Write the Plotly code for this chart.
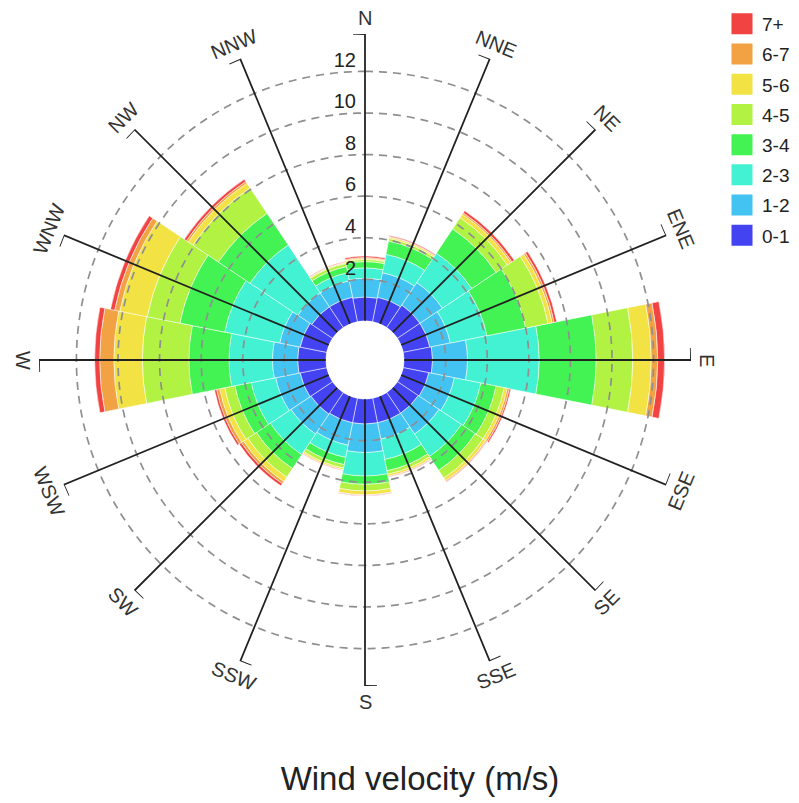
import math
import plotly.graph_objects as go

# ---------------- data ----------------
directions = ["N", "NNE", "NE", "ENE", "E", "ESE", "SE", "SSE",
              "S", "SSW", "SW", "WSW", "W", "WNW", "NW", "NNW"]
speed_bins = ["0-1", "1-2", "2-3", "3-4", "4-5", "5-6", "6-7", "7+"]
bin_colors = ["#4343f2", "#43c3f2", "#43f2d2", "#43f253",
              "#b2f243", "#f2e243", "#f2a243", "#f24343"]

# frequency (stacked) per speed bin, one value per direction (N ... NNW)
v_0_1 = [1.15, 1.20, 1.30, 1.30, 1.37, 1.25, 1.20, 1.20, 1.20, 1.20, 1.25, 1.30, 1.36, 1.30, 1.20, 1.20]
v_1_2 = [0.90, 1.20, 1.30, 1.00, 1.68, 1.25, 1.20, 0.80, 1.37, 1.10, 1.15, 1.20, 1.21, 1.00, 0.80, 0.80]
v_2_3 = [0.50, 0.90, 1.70, 1.80, 3.45, 1.30, 1.30, 1.00, 1.13, 0.60, 1.20, 1.20, 2.09, 2.70, 2.77, 0.40]
v_3_4 = [0.30, 0.65, 1.40, 1.90, 2.74, 0.75, 0.80, 0.55, 0.40, 0.35, 0.80, 0.80, 1.93, 2.20, 1.83, 0.30]
v_4_5 = [0.10, 0.13, 0.65, 1.10, 1.76, 0.40, 0.45, 0.17, 0.32, 0.17, 0.50, 0.50, 2.24, 1.60, 1.47, 0.15]
v_5_6 = [0.05, 0.07, 0.20, 0.20, 0.89, 0.15, 0.15, 0.10, 0.18, 0.08, 0.25, 0.25, 1.37, 1.35, 0.28, 0.05]
v_6_7 = [0.05, 0.03, 0.08, 0.10, 0.31, 0.10, 0.05, 0.03, 0.03, 0.02, 0.13, 0.15, 0.68, 0.25, 0.10, 0.02]
v_7p = [0.07, 0.04, 0.12, 0.12, 0.33, 0.07, 0.03, 0.02, 0.02, 0.02, 0.12, 0.10, 0.24, 0.20, 0.12, 0.03]
series = [v_0_1, v_1_2, v_2_3, v_3_4, v_4_5, v_5_6, v_6_7, v_7p]

radial_ticks = [2, 4, 6, 8, 10, 12]
radial_max = 13.8
title_text = "Wind velocity (m/s)"

# ---------------- figure ----------------
W, H = 783, 795
ML, MR, MT, MB = 31, 100, 26, 117
PW = W - ML - MR
PH = H - MT - MB
R_PX = PW / 2.0
HOLE = 0.12
HOLE_PX = HOLE * R_PX
PX_PER_UNIT = (R_PX - HOLE_PX) / radial_max

step = 360.0 / len(directions)
angles = [i * step for i in range(len(directions))]

fig = go.Figure()

for name, vals, col in zip(speed_bins, series, bin_colors):
    fig.add_trace(go.Barpolar(
        r=vals, theta=angles, width=[step] * len(angles), name=name,
        marker=dict(color=col, line=dict(color="rgba(255,255,255,0.85)", width=0.6)),
        showlegend=False, hoverinfo="skip",
    ))

# dashed circular grid drawn over the bars
cr, ct = [], []
for t in radial_ticks:
    cr += [t] * 361 + [None]
    ct += list(range(361)) + [None]
fig.add_trace(go.Scatterpolar(
    r=cr, theta=ct, mode="lines", showlegend=False, hoverinfo="skip",
    line=dict(color="#8f8f8f", width=1.7, dash="8px,6px"),
))

# black direction spokes with end caps
cap_deg = math.degrees(12.0 / R_PX)
sr, st = [], []
for a in angles:
    sr += [0, radial_max, radial_max, None]
    st += [a, a, a - cap_deg, None]
fig.add_trace(go.Scatterpolar(
    r=sr, theta=st, mode="lines", showlegend=False, hoverinfo="skip",
    line=dict(color="#222222", width=1.8), cliponaxis=False,
))

# radial tick labels, just left of the N spoke
tick_theta = [-math.degrees(math.atan(9.0 / (HOLE_PX + t * PX_PER_UNIT))) for t in radial_ticks]
fig.add_trace(go.Scatterpolar(
    r=radial_ticks, theta=tick_theta, mode="text",
    text=[str(t) for t in radial_ticks], textposition="top left",
    textfont=dict(size=20, color="#222222"),
    showlegend=False, hoverinfo="skip", cliponaxis=False,
))

# legend entries (top: 7+)
for name, col in reversed(list(zip(speed_bins, bin_colors))):
    fig.add_trace(go.Scatterpolar(
        r=[None], theta=[None], mode="markers", name=name, legendgroup=name,
        marker=dict(symbol="square", size=16, color=col,
                    line=dict(color=col, width=5)),
    ))

# direction labels, tangential
annotations = []
lab_d = R_PX + 16
for name, a in zip(directions, angles):
    if a <= 90:
        ta = a
    elif a <= 270:
        ta = a - 180
    else:
        ta = a - 360
    annotations.append(dict(
        x=0.5, y=0.5, xref="paper", yref="paper", text=name, showarrow=False,
        xshift=lab_d * math.sin(math.radians(a)),
        yshift=lab_d * math.cos(math.radians(a)),
        textangle=ta, xanchor="center", yanchor="middle",
        font=dict(size=20, color="#333333"),
    ))

fig.update_layout(
    width=W, height=H, autosize=False,
    margin=dict(l=ML, r=MR, t=MT, b=MB, autoexpand=False),
    paper_bgcolor="white",
    font=dict(family="Arial, Liberation Sans, sans-serif", color="#222222"),
    title=dict(text=title_text, x=412 / W, y=1 - 770 / H, xref="container", yref="container",
               xanchor="center", yanchor="middle",
               font=dict(size=33, color="#222222")),
    polar=dict(
        domain=dict(x=[0, 1], y=[0, 1]),
        hole=HOLE,
        bgcolor="white",
        radialaxis=dict(range=[0, radial_max], angle=90, showticklabels=False,
                        showgrid=False, showline=False, ticks=""),
        angularaxis=dict(rotation=90, direction="clockwise", showgrid=False,
                         showline=False, showticklabels=False, ticks=""),
    ),
    legend=dict(x=(714 - ML) / PW, y=(H - MB + 3) / PH,
                xanchor="left", yanchor="top", font=dict(size=19, color="#222222"),
                tracegroupgap=2.5, bgcolor="rgba(0,0,0,0)"),
    annotations=annotations,
)

fig.write_html("out.html")
